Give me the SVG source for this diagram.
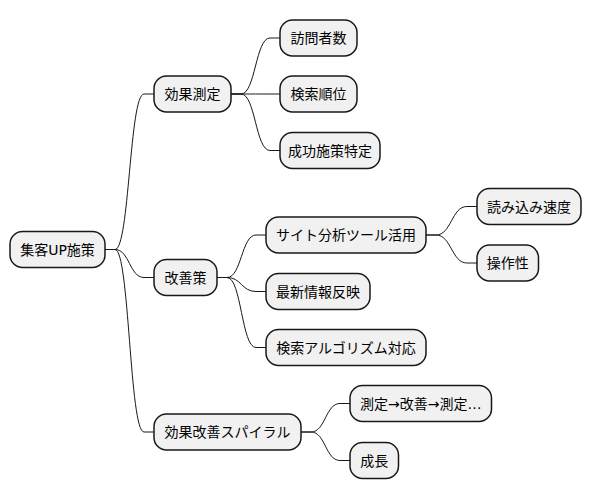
<svg xmlns="http://www.w3.org/2000/svg" width="591" height="499" viewBox="0 0 591 499">
<style>
.n rect{fill:#F1F1F1;stroke:#181818;stroke-width:1.5}
.n text{font-family:"DejaVu Sans","Noto Sans CJK JP",sans-serif;font-size:14px;fill:#000;text-anchor:middle}
.c path{fill:none;stroke:#181818;stroke-width:1}
</style>
<rect width="591" height="499" fill="#FFFFFF"/>
<g class="c" id="connectors">
<path d="M105,249.5 L115,249.5 C129.5,249.5 129.5,94 144,94 L154,94"/>
<path d="M105,249.5 L115,249.5 C129.5,249.5 129.5,277.5 144,277.5 L154,277.5"/>
<path d="M105,249.5 L115,249.5 C129.5,249.5 129.5,432 144,432 L154,432"/>
<path d="M231,94 L241,94 C255.5,94 255.5,38 270,38 L280,38"/>
<path d="M231,94 L241,94 C255.5,94 255.5,94 270,94 L280,94"/>
<path d="M231,94 L241,94 C255.5,94 255.5,150.5 270,150.5 L280,150.5"/>
<path d="M217,277.5 L227,277.5 C241.5,277.5 241.5,235 256,235 L266,235"/>
<path d="M217,277.5 L227,277.5 C241.5,277.5 241.5,291.5 256,291.5 L266,291.5"/>
<path d="M217,277.5 L227,277.5 C241.5,277.5 241.5,347.5 256,347.5 L266,347.5"/>
<path d="M426,235 L436,235 C451.5,235 451.5,206.5 467,206.5 L477,206.5"/>
<path d="M426,235 L436,235 C451.5,235 451.5,263 467,263 L477,263"/>
<path d="M301,432 L311,432 C325.5,432 325.5,403.5 340,403.5 L350,403.5"/>
<path d="M301,432 L311,432 C325.5,432 325.5,460.5 340,460.5 L350,460.5"/>
</g>
<g class="n" id="root"><rect x="10" y="231.5" width="95" height="36" rx="12.5"/><text x="57.5" y="254.5">集客UP施策</text></g>
<g class="n" id="n1"><rect x="154" y="76" width="77" height="36" rx="12.5"/><text x="192.5" y="99">効果測定</text></g>
<g class="n" id="n11"><rect x="280" y="20" width="77" height="36" rx="12.5"/><text x="318.5" y="43">訪問者数</text></g>
<g class="n" id="n12"><rect x="280" y="76" width="77" height="36" rx="12.5"/><text x="318.5" y="99">検索順位</text></g>
<g class="n" id="n13"><rect x="280" y="132.5" width="100" height="36" rx="12.5"/><text x="330" y="155.5">成功施策特定</text></g>
<g class="n" id="n2"><rect x="154" y="259.5" width="63" height="36" rx="12.5"/><text x="185.5" y="282.5">改善策</text></g>
<g class="n" id="n21"><rect x="266" y="217" width="160" height="36" rx="12.5"/><text x="346" y="240">サイト分析ツール活用</text></g>
<g class="n" id="n211"><rect x="477" y="188.5" width="104" height="36" rx="12.5"/><text x="529" y="211.5">読み込み速度</text></g>
<g class="n" id="n212"><rect x="477" y="245" width="61.5" height="36" rx="12.5"/><text x="507.75" y="268">操作性</text></g>
<g class="n" id="n22"><rect x="266" y="273.5" width="104" height="36" rx="12.5"/><text x="318" y="296.5">最新情報反映</text></g>
<g class="n" id="n23"><rect x="266" y="329.5" width="160" height="36" rx="12.5"/><text x="346" y="352.5">検索アルゴリズム対応</text></g>
<g class="n" id="n3"><rect x="154" y="414" width="147" height="36" rx="12.5"/><text x="227.5" y="437">効果改善スパイラル</text></g>
<g class="n" id="n31"><rect x="350" y="385.5" width="141.5" height="36" rx="12.5"/><text x="420.75" y="408.5">測定→改善→測定…</text></g>
<g class="n" id="n32"><rect x="350" y="442.5" width="48.5" height="36" rx="12.5"/><text x="374.25" y="465.5">成長</text></g>
</svg>
